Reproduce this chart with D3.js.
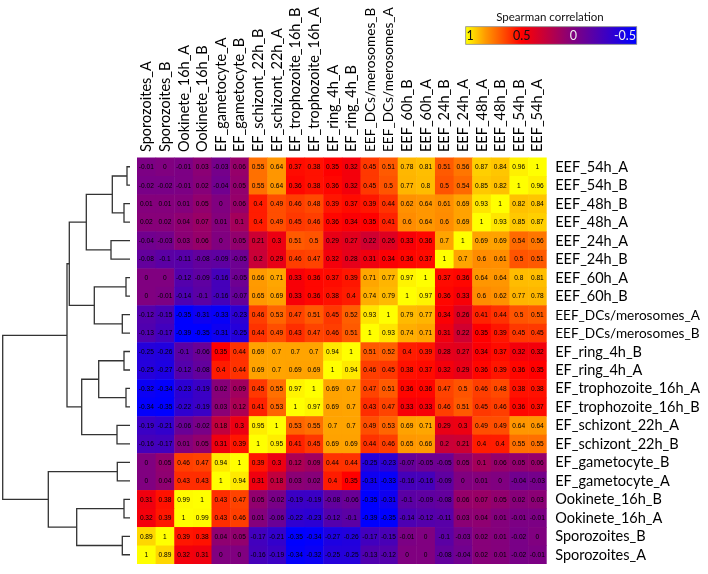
<!DOCTYPE html>
<html>
<head>
<meta charset="utf-8">
<script src="https://cdn.jsdelivr.net/npm/d3@7"></script>
<style>
body { margin: 0; background: #fff; }
svg { display: block; filter: blur(0.3px); }
.label { font-family: Lato, "Open Sans", sans-serif; font-size: 14.5px; fill: #000; }
.cell-value { font-family: "Liberation Sans", Arial, sans-serif; font-size: 6.6px; fill: #000; text-anchor: middle; }
</style>
</head>
<body>
<div id="chart"></div>
<script>
let rowLabels = ['EEF_54h_A', 'EEF_54h_B', 'EEF_48h_B', 'EEF_48h_A', 'EEF_24h_A', 'EEF_24h_B', 'EEF_60h_A', 'EEF_60h_B',
    'EEF_DCs/merosomes_A', 'EEF_DCs/merosomes_B', 'EF_ring_4h_B', 'EF_ring_4h_A', 'EF_trophozoite_16h_A', 'EF_trophozoite_16h_B',
    'EF_schizont_22h_A', 'EF_schizont_22h_B', 'EF_gametocyte_B', 'EF_gametocyte_A', 'Ookinete_16h_B', 'Ookinete_16h_A',
    'Sporozoites_B', 'Sporozoites_A'];

let colLabels = ['Sporozoites_A', 'Sporozoites_B', 'Ookinete_16h_A', 'Ookinete_16h_B', 'EF_gametocyte_A', 'EF_gametocyte_B',
    'EF_schizont_22h_B', 'EF_schizont_22h_A', 'EF_trophozoite_16h_B', 'EF_trophozoite_16h_A', 'EF_ring_4h_A', 'EF_ring_4h_B',
    'EEF_DCs/merosomes_B', 'EEF_DCs/merosomes_A', 'EEF_60h_B', 'EEF_60h_A', 'EEF_24h_B', 'EEF_24h_A', 'EEF_48h_A', 'EEF_48h_B',
    'EEF_54h_B', 'EEF_54h_A'];

// one line per row, same order as rowLabels / colLabels
let corrValues = [
    [-0.01, 0, -0.01, 0.03, -0.03, 0.06, 0.55, 0.64, 0.37, 0.38, 0.35, 0.32, 0.45, 0.51, 0.78, 0.81, 0.51, 0.56, 0.87, 0.84, 0.96, 1],
    [-0.02, -0.02, -0.01, 0.02, -0.04, 0.05, 0.55, 0.64, 0.36, 0.38, 0.36, 0.32, 0.45, 0.5, 0.77, 0.8, 0.5, 0.54, 0.85, 0.82, 1, 0.96],
    [0.01, 0.01, 0.01, 0.05, 0, 0.06, 0.4, 0.49, 0.46, 0.48, 0.39, 0.37, 0.39, 0.44, 0.62, 0.64, 0.61, 0.69, 0.93, 1, 0.82, 0.84],
    [0.02, 0.02, 0.04, 0.07, 0.01, 0.1, 0.4, 0.49, 0.45, 0.46, 0.36, 0.34, 0.35, 0.41, 0.6, 0.64, 0.6, 0.69, 1, 0.93, 0.85, 0.87],
    [-0.04, -0.03, 0.03, 0.06, 0, 0.05, 0.21, 0.3, 0.51, 0.5, 0.29, 0.27, 0.22, 0.26, 0.33, 0.36, 0.7, 1, 0.69, 0.69, 0.54, 0.56],
    [-0.08, -0.1, -0.11, -0.08, -0.09, -0.05, 0.2, 0.29, 0.46, 0.47, 0.32, 0.28, 0.31, 0.34, 0.36, 0.37, 1, 0.7, 0.6, 0.61, 0.5, 0.51],
    [0, 0, -0.12, -0.09, -0.16, -0.05, 0.66, 0.71, 0.33, 0.36, 0.37, 0.39, 0.71, 0.77, 0.97, 1, 0.37, 0.36, 0.64, 0.64, 0.8, 0.81],
    [0, -0.01, -0.14, -0.1, -0.16, -0.07, 0.65, 0.69, 0.33, 0.36, 0.38, 0.4, 0.74, 0.79, 1, 0.97, 0.36, 0.33, 0.6, 0.62, 0.77, 0.78],
    [-0.12, -0.15, -0.35, -0.31, -0.33, -0.23, 0.46, 0.53, 0.47, 0.51, 0.45, 0.52, 0.93, 1, 0.79, 0.77, 0.34, 0.26, 0.41, 0.44, 0.5, 0.51],
    [-0.13, -0.17, -0.39, -0.35, -0.31, -0.25, 0.44, 0.49, 0.43, 0.47, 0.46, 0.51, 1, 0.93, 0.74, 0.71, 0.31, 0.22, 0.35, 0.39, 0.45, 0.45],
    [-0.25, -0.26, -0.1, -0.06, 0.35, 0.44, 0.69, 0.7, 0.7, 0.7, 0.94, 1, 0.51, 0.52, 0.4, 0.39, 0.28, 0.27, 0.34, 0.37, 0.32, 0.32],
    [-0.25, -0.27, -0.12, -0.08, 0.4, 0.44, 0.69, 0.7, 0.69, 0.69, 1, 0.94, 0.46, 0.45, 0.38, 0.37, 0.32, 0.29, 0.36, 0.39, 0.36, 0.35],
    [-0.32, -0.34, -0.23, -0.19, 0.02, 0.09, 0.45, 0.55, 0.97, 1, 0.69, 0.7, 0.47, 0.51, 0.36, 0.36, 0.47, 0.5, 0.46, 0.48, 0.38, 0.38],
    [-0.34, -0.35, -0.22, -0.19, 0.03, 0.12, 0.41, 0.53, 1, 0.97, 0.69, 0.7, 0.43, 0.47, 0.33, 0.33, 0.46, 0.51, 0.45, 0.46, 0.36, 0.37],
    [-0.19, -0.21, -0.06, -0.02, 0.18, 0.3, 0.95, 1, 0.53, 0.55, 0.7, 0.7, 0.49, 0.53, 0.69, 0.71, 0.29, 0.3, 0.49, 0.49, 0.64, 0.64],
    [-0.16, -0.17, 0.01, 0.05, 0.31, 0.39, 1, 0.95, 0.41, 0.45, 0.69, 0.69, 0.44, 0.46, 0.65, 0.66, 0.2, 0.21, 0.4, 0.4, 0.55, 0.55],
    [0, 0.05, 0.46, 0.47, 0.94, 1, 0.39, 0.3, 0.12, 0.09, 0.44, 0.44, -0.25, -0.23, -0.07, -0.05, -0.05, 0.05, 0.1, 0.06, 0.05, 0.06],
    [0, 0.04, 0.43, 0.43, 1, 0.94, 0.31, 0.18, 0.03, 0.02, 0.4, 0.35, -0.31, -0.33, -0.16, -0.16, -0.09, 0, 0.01, 0, -0.04, -0.03],
    [0.31, 0.38, 0.99, 1, 0.43, 0.47, 0.05, -0.02, -0.19, -0.19, -0.08, -0.06, -0.35, -0.31, -0.1, -0.09, -0.08, 0.06, 0.07, 0.05, 0.02, 0.03],
    [0.32, 0.39, 1, 0.99, 0.43, 0.46, 0.01, -0.06, -0.22, -0.23, -0.12, -0.1, -0.39, -0.35, -0.14, -0.12, -0.11, 0.03, 0.04, 0.01, -0.01, -0.01],
    [0.89, 1, 0.39, 0.38, 0.04, 0.05, -0.17, -0.21, -0.35, -0.34, -0.27, -0.26, -0.17, -0.15, -0.01, 0, -0.1, -0.03, 0.02, 0.01, -0.02, 0],
    [1, 0.89, 0.32, 0.31, 0, 0, -0.16, -0.19, -0.34, -0.32, -0.25, -0.25, -0.13, -0.12, 0, 0, -0.08, -0.04, 0.02, 0.01, -0.02, -0.01]
];

// colour stops of the heatmap
let colorStops = [-0.35, 0, 0.35, 0.6, 0.85, 1];
let colorRange = ['#0000ff', '#800080', '#ff0000', '#ff8c00', '#ffc800', '#ffff00'];

// legend bar, its colours do not sit at the same values as the cells
let legendTicks = [1, 0.5, 0, -0.5];
let legendStops = [1.05, 0.85, 0.5, 0, -0.6];
let legendColors = ['#ffff00', '#ff9900', '#ff0000', '#800080', '#0000ff'];

// tree: [distance, child, child], a string is a row label
let dendroTree = [127.3,
    [63,
        [60.7,
            [43.7,
                [17.7, [3, 'EEF_54h_A', 'EEF_54h_B'], [6, 'EEF_48h_B', 'EEF_48h_A']],
                [19, 'EEF_24h_A', 'EEF_24h_B']],
            [35.7, [4, 'EEF_60h_A', 'EEF_60h_B'], [7.7, 'EEF_DCs/merosomes_A', 'EEF_DCs/merosomes_B']]],
        [48.3,
            [31.3, [6, 'EF_ring_4h_B', 'EF_ring_4h_A'], [4, 'EF_trophozoite_16h_A', 'EF_trophozoite_16h_B']],
            [13, 'EF_schizont_22h_A', 'EF_schizont_22h_B']]],
    [81.7,
        [12.7, 'EF_gametocyte_B', 'EF_gametocyte_A'],
        [53.3, [6, 'Ookinete_16h_B', 'Ookinete_16h_A'], [7.7, 'Sporozoites_B', 'Sporozoites_A']]]
];

let width = 708,
    height = 574,
    heatLeft = 137,
    heatRight = 546.7,
    heatTop = 157.5,
    heatBottom = 564;

let svg = d3.select('#chart').append('svg')
    .attr('width', width)
    .attr('height', height);

let xScale = d3.scaleBand().domain(colLabels).range([heatLeft, heatRight]);
let yScale = d3.scaleBand().domain(rowLabels).range([heatTop, heatBottom]);
let colorScale = d3.scaleLinear().domain(colorStops).range(colorRange).clamp(true);

let cells = [];
corrValues.forEach((row, i) => {
    row.forEach((v, j) => {
        cells.push({row: rowLabels[i], col: colLabels[j], value: v});
    });
});

svg.append('g').selectAll('rect')
    .data(cells)
    .join('rect')
    .attr('x', d => xScale(d.col))
    .attr('y', d => yScale(d.row))
    .attr('width', d => xScale.bandwidth() + (d.col === 'EEF_54h_A' ? 0 : 0.5))
    .attr('height', d => yScale.bandwidth() + (d.row === 'Sporozoites_A' ? 0 : 0.5))
    .attr('fill', d => colorScale(d.value));

svg.append('g').selectAll('text')
    .data(cells)
    .join('text')
    .attr('class', 'cell-value')
    .attr('x', d => xScale(d.col) + xScale.bandwidth() / 2)
    .attr('y', d => yScale(d.row) + yScale.bandwidth() / 2 + 2.3)
    .text(d => d.value);

// the two long labels have to stay inside the page
let labelSize = d => d.includes('DCs') ? '13.6px' : null;

// row labels
svg.append('g').selectAll('text')
    .data(rowLabels)
    .join('text')
    .attr('class', 'label')
    .attr('x', heatRight + 8.5)
    .attr('y', d => yScale(d) + yScale.bandwidth() / 2 + 5)
    .style('font-size', labelSize)
    .text(d => d);

// column labels
svg.append('g').selectAll('text')
    .data(colLabels)
    .join('text')
    .attr('class', 'label')
    .attr('transform', d => `translate(${xScale(d) + xScale.bandwidth() / 2 + 5}, 152) rotate(-90)`)
    .style('font-size', labelSize)
    .text(d => d);

// dendrogram
let dendroX = d3.scaleLinear().domain([0, 130]).range([130, 0]);

let root = d3.hierarchy(dendroTree, d => typeof d === 'string' ? null : d.slice(1));
root.eachAfter(n => {
    if (n.children) {
        n.py = d3.mean(n.children, c => c.py);
        n.px = dendroX(n.data[0]);
    } else {
        n.py = yScale(n.data) + yScale.bandwidth() / 2;
        n.px = dendroX(0);
    }
});

svg.append('g').selectAll('path')
    .data(root.descendants().filter(n => n.children))
    .join('path')
    .attr('fill', 'none')
    .attr('stroke', '#333')
    .attr('stroke-width', 1.3)
    .attr('d', n => {
        let [a, b] = n.children;
        return `M${a.px},${a.py}H${n.px}V${b.py}H${b.px}`;
    });

// legend
let legendLeft = 465.7, legendRight = 636.7, legendY = 26.7, legendH = 17.6;
let legendX = d3.scaleLinear().domain([1, -0.5]).range([470, 625]);

let gradient = svg.append('defs').append('linearGradient')
    .attr('id', 'legend-gradient');
gradient.selectAll('stop')
    .data(legendStops)
    .join('stop')
    .attr('offset', d => (legendX(d) - legendLeft) / (legendRight - legendLeft))
    .attr('stop-color', (d, i) => legendColors[i]);

svg.append('rect')
    .attr('x', legendLeft)
    .attr('y', legendY)
    .attr('width', legendRight - legendLeft)
    .attr('height', legendH)
    .attr('fill', 'url(#legend-gradient)')
    .attr('stroke', '#8a8a8a')
    .attr('stroke-width', 0.8);

svg.append('g').selectAll('text')
    .data(legendTicks)
    .join('text')
    .attr('x', d => legendX(d))
    .attr('y', legendY + 13.5)
    .attr('text-anchor', 'middle')
    .attr('font-family', 'Lato, sans-serif')
    .attr('font-size', 12.5)
    .attr('fill', d => d > 0 ? '#111' : '#eee')
    .text(d => d);

svg.append('text')
    .attr('x', 550)
    .attr('y', 21)
    .attr('text-anchor', 'middle')
    .attr('font-family', 'Lato, sans-serif')
    .attr('font-size', 11.5)
    .attr('fill', '#111')
    .text('Spearman correlation');
</script>
</body>
</html>
